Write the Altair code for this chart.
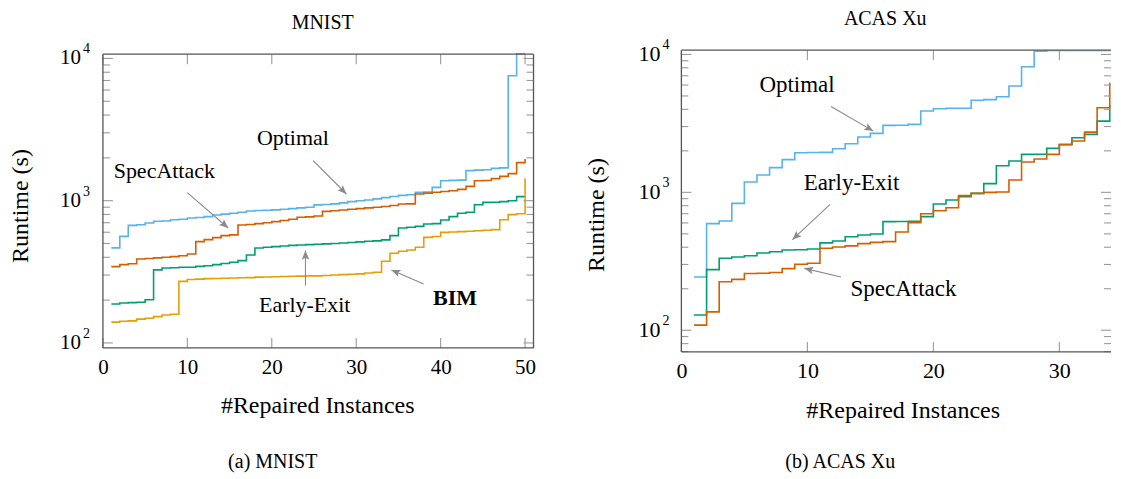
import math
import altair as alt
import pandas as pd

FONT = "Liberation Serif"
C_OPT, C_SPEC, C_EE, C_BIM = "#56B4E9", "#D55E00", "#009E73", "#E69F00"
GRAY, FRAME, TICK = "#8a8a8a", "#555555", "#9a9a9a"

# ---------------- MNIST (runtime in s, sorted) ----------------
mn_x = list(range(1, 51))
mn_optimal = [466, 561, 670, 678, 696, 716, 720, 735, 740, 755,
              762, 773, 794, 805, 815, 830, 847, 852, 856, 862,
              870, 880, 890, 900, 935, 940, 950, 965, 985, 1000,
              1010, 1030, 1050, 1070, 1090, 1100, 1143, 1150, 1240, 1382,
              1390, 1395, 1626, 1640, 1650, 1687, 1700, 7550, 10800, 10800]
mn_specattack = [344, 355, 360, 389, 392, 396, 400, 404, 410, 422,
                 515, 532, 550, 568, 575, 674, 680, 690, 700, 712,
                 725, 740, 764, 770, 780, 841, 850, 860, 870, 880,
                 890, 900, 910, 925, 948, 950, 1114, 1130, 1145, 1160,
                 1175, 1200, 1260, 1382, 1385, 1430, 1482, 1550, 1853, 1962]
mn_earlyexit = [188, 191, 192, 193, 201, 326, 336, 338, 340, 340,
                345, 349, 355, 362, 369, 379, 415, 465, 470, 475,
                480, 485, 488, 491, 494, 497, 500, 504, 508, 513,
                518, 522, 530, 568, 643, 650, 660, 685, 690, 731,
                773, 815, 830, 937, 973, 975, 985, 1000, 1067, 1070]
mn_bim = [140, 142, 143, 147, 149, 153, 157, 159, 271, 279,
          281, 283, 284, 285, 286, 287, 288, 290, 291, 292,
          293, 294, 295, 296, 296, 298, 300, 302, 304, 306,
          310, 314, 375, 427, 441, 450, 470, 552, 560, 599,
          603, 606, 610, 615, 620, 626, 735, 798, 810, 1440]

# ---------------- ACAS Xu ----------------
ac_x = list(range(1, 35))
ac_optimal = [243, 593, 620, 832, 1188, 1335, 1510, 1726, 1938, 1945,
              1950, 2072, 2252, 2518, 2677, 3061, 3065, 3110, 3885, 4040,
              4070, 4075, 4650, 4700, 4930, 5900, 8150, 10570, 10700, 10700,
              10700, 10700, 10700, 10700]
ac_earlyexit = [129, 275, 333, 340, 347, 363, 371, 382, 383, 388,
                430, 444, 477, 491, 499, 613, 615, 617, 667, 823,
                880, 930, 983, 1156, 1560, 1686, 1885, 1890, 2083, 2215,
                2490, 2631, 3286, 4300]
ac_specattack = [109, 136, 225, 234, 258, 259, 262, 280, 301, 306,
                 393, 402, 409, 425, 434, 439, 516, 603, 700, 736,
                 774, 946, 983, 1000, 1005, 1228, 1660, 1745, 1885, 2227,
                 2355, 2735, 4110, 6240]

# axis ticks
mn_xticks = [0, 10, 20, 30, 40, 50]
ac_xticks = [0, 10, 20, 30]
y_major = [100, 1000, 10000]
y_major_exp = ["2", "3", "4"]
mn_minor = [200, 300, 400, 500, 600, 700, 800, 900, 2000, 3000, 4000, 5000, 6000, 7000, 8000, 9000]
ac_minor = [70, 80, 90] + mn_minor

# annotations (data coordinates)
mn_labels = ["Optimal", "SpecAttack", "Early-Exit"]
mn_label_x = [22.5, 7.27, 23.9]
mn_label_y = [2775, 1626, 186]
mn_bold_label, mn_bold_x, mn_bold_y = ["BIM"], [41.7], [206]
mn_arrow_x1 = [24.9, 9.99, 23.99, 37.99]
mn_arrow_y1 = [1910, 1138, 253, 260]
mn_arrow_x2 = [28.84, 14.84, 23.99, 34.17]
mn_arrow_y2 = [1114, 643, 446, 326]

ac_labels = ["Optimal", "Early-Exit", "SpecAttack"]
ac_label_x = [9.18, 13.5, 17.63]
ac_label_y = [5995, 1174, 198]
ac_arrow_x1 = [11.88, 11.8, 12.67]
ac_arrow_y1 = [4198, 819, 243]
ac_arrow_x2 = [15.23, 8.81, 9.76]
ac_arrow_y2 = [2780, 454, 281]

ARROW_PATH = "M0,0L-0.42,1L0,0.78L0.42,1Z"
one = pd.DataFrame({"k": [0]})


def panel(series, xvals, xmax, ylo, yhi, W, H, top, xticks, minor, labels, lx, ly,
          ax1, ay1, ax2, ay2, fs, title, title_xy, caption, caption_xy,
          ytitle_xy, xtitle_xy, lab_dx, right_side, bold=None, extra=None):
    # 'top' = empty pixels above the frame; the log scale extends over them
    ppd = (H - top) / (math.log10(yhi) - math.log10(ylo))
    ytop = 10 ** (math.log10(yhi) + top / ppd)
    xs = alt.Scale(domain=[0, xmax], nice=False, zero=False)
    ys = alt.Scale(type="log", domain=[ylo, ytop], nice=False)
    xaxis = alt.Axis(values=xticks, ticks=False, tickSize=0, domain=False,
                     grid=False, labelFont=FONT, labelFontSize=fs - 1,
                     labelColor="black", labelPadding=9, labelFlush=False, title="")

    def X(f):
        return alt.X(f, type="quantitative", scale=xs, axis=xaxis)

    def Y(f):
        return alt.Y(f, type="quantitative", scale=ys, axis=None)

    layers = []
    for vals, col in series:
        df = pd.DataFrame({"x": xvals, "v": vals})
        layers.append(alt.Chart(df).mark_line(interpolate="step-after", color=col,
                                              strokeWidth=1.6, clip=True)
                      .encode(x=X("x"), y=Y("v")))

    # inner ticks
    xt = pd.DataFrame({"v": xticks})
    for y0, y1 in [(H, H - 10), (top, top + 10)]:
        layers.append(alt.Chart(xt).mark_rule(color=TICK, strokeWidth=1.1)
                      .encode(x=X("v"), y=alt.value(y0), y2=alt.value(y1)))
    maj = pd.DataFrame({"v": y_major, "b": ["10"] * 3, "e": y_major_exp})
    mnr = pd.DataFrame({"v": minor})
    for x0, x1 in [(0, 10), (W - 10, W)]:
        layers.append(alt.Chart(maj).mark_rule(color=TICK, strokeWidth=1.1)
                      .encode(y=Y("v"), x=alt.value(x0), x2=alt.value(x1)))
    for x0, x1 in [(0, 7), (W - 7, W)]:
        layers.append(alt.Chart(mnr).mark_rule(color=TICK, strokeWidth=1.1)
                      .encode(y=Y("v"), x=alt.value(x0), x2=alt.value(x1)))
    # y tick labels 10^k
    layers.append(alt.Chart(maj).mark_text(align="right", baseline="middle", font=FONT,
                                           fontSize=fs - 1, color="black")
                  .encode(y=Y("v"), x=alt.value(lab_dx), text="b:N"))
    layers.append(alt.Chart(maj).mark_text(align="left", baseline="middle", font=FONT,
                                           fontSize=14, color="black", dy=-9)
                  .encode(y=Y("v"), x=alt.value(lab_dx + 2), text="e:N"))

    # frame
    frame = [dict(x=alt.value(0), x2=alt.value(W), y=alt.value(top)),
             dict(x=alt.value(0), x2=alt.value(W), y=alt.value(H)),
             dict(x=alt.value(0), y=alt.value(top), y2=alt.value(H))]
    if right_side:
        frame.append(dict(x=alt.value(W), y=alt.value(top), y2=alt.value(H)))
    for enc in frame:
        layers.append(alt.Chart(one).mark_rule(color=FRAME, strokeWidth=1.3).encode(**enc))

    # arrows
    ppx = W / xmax
    angs = []
    for a, b, c, d in zip(ax1, ay1, ax2, ay2):
        dx = (c - a) * ppx
        dy = -(math.log10(d) - math.log10(b)) * ppd
        angs.append(math.degrees(math.atan2(dx, -dy)) % 360)
    adf = pd.DataFrame({"x1": ax1, "y1": ay1, "x2": ax2, "y2": ay2, "ang": angs})
    layers.append(alt.Chart(adf).mark_rule(color=GRAY, strokeWidth=1.1)
                  .encode(x=X("x1"), y=Y("y1"), x2="x2", y2="y2"))
    layers.append(alt.Chart(adf).mark_point(shape=ARROW_PATH, filled=True, color=GRAY,
                                            opacity=1, size=330, strokeWidth=0)
                  .encode(x=X("x2"), y=Y("y2"), angle=alt.Angle("ang:Q", scale=None)))

    # annotation labels
    ldf = pd.DataFrame({"x": lx, "y": ly, "t": labels})
    layers.append(alt.Chart(ldf).mark_text(font=FONT, fontSize=fs, color="black",
                                           baseline="middle", align="center")
                  .encode(x=X("x"), y=Y("y"), text="t:N"))
    if bold:
        bdf = pd.DataFrame({"x": bold[1], "y": bold[2], "t": bold[0]})
        layers.append(alt.Chart(bdf).mark_text(font=FONT, fontSize=fs, fontWeight="bold",
                                               color="black", baseline="middle", align="center")
                      .encode(x=X("x"), y=Y("y"), text="t:N"))

    # titles / captions / axis titles
    def txt(s, xy, size, angle=0):
        df = pd.DataFrame({"t": [s]})
        m = dict(font=FONT, fontSize=size, color="black", baseline="middle", align="center")
        if angle:
            m["angle"] = angle
        return alt.Chart(df).mark_text(**m).encode(x=alt.value(xy[0]), y=alt.value(xy[1]),
                                                   text="t:N")

    layers.append(txt(title, title_xy, 20))
    layers.append(txt(caption, caption_xy, 20))
    layers.append(txt("Runtime (s)", ytitle_xy, 24, 270))
    layers.append(txt("#Repaired Instances", xtitle_xy, 24))
    if extra is not None:
        layers.append(extra)
    return alt.layer(*layers).properties(width=W, height=H)


# invisible anchor fixing the chart's outer top-left corner
anchor = alt.Chart(one).mark_rule(opacity=0, strokeOpacity=0).encode(
    x=alt.value(-94), x2=alt.value(-93), y=alt.value(-41))

left = panel([(mn_optimal, C_OPT), (mn_specattack, C_SPEC), (mn_earlyexit, C_EE), (mn_bim, C_BIM)],
             mn_x, 51, 10 ** 1.965, 10 ** 4.03, 431, 298, 4, mn_xticks, mn_minor,
             mn_labels, mn_label_x, mn_label_y,
             mn_arrow_x1, mn_arrow_y1, mn_arrow_x2, mn_arrow_y2, 22,
             "MNIST", (220, -27), "(a) MNIST", (170, 412), (-82, 156), (215, 356), -22,
             True, bold=(mn_bold_label, mn_bold_x, mn_bold_y), extra=anchor)

right = panel([(ac_optimal, C_OPT), (ac_earlyexit, C_EE), (ac_specattack, C_SPEC)],
              ac_x, 34.1, 10 ** 1.843, 10 ** 4.031, 430, 302, 0, ac_xticks, ac_minor,
              ac_labels, ac_label_x, ac_label_y,
              ac_arrow_x1, ac_arrow_y1, ac_arrow_x2, ac_arrow_y2, 23,
              "ACAS Xu", (204, -31), "(b) ACAS Xu", (159, 412), (-84, 165), (222, 361), -21,
              False)

chart = alt.hconcat(left, right, spacing=148, bounds="flush").properties(
    padding=0).configure_view(stroke="transparent")

chart.save("out.html", embed_options={"renderer": "svg", "actions": False})
